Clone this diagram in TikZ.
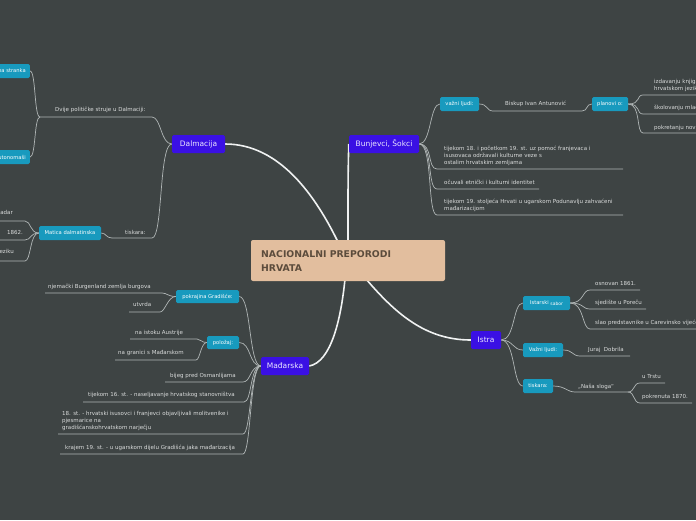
\documentclass[tikz,border=0pt]{standalone}
\usepackage{fontspec}
\setmainfont{DejaVu Sans}
\pgfdeclarelayer{back}
\pgfdeclarelayer{lines}
\pgfsetlayers{back,lines,main}
\definecolor{bgc}{RGB}{62,68,68}
\definecolor{centerc}{RGB}{226,190,158}
\definecolor{centert}{RGB}{92,76,60}
\definecolor{topicc}{RGB}{58,16,228}
\definecolor{topict}{RGB}{236,232,255}
\definecolor{subc}{RGB}{24,154,190}
\definecolor{lblc}{RGB}{218,220,220}
\definecolor{linec}{RGB}{176,182,182}
\definecolor{boughc}{RGB}{240,242,242}
\tikzset{
  rootbox/.style={fill=centerc, rounded corners=2pt, minimum width=194pt, minimum height=41pt, inner sep=0pt},
  topic/.style={fill=topicc, rounded corners=1.5pt, text=topict, font=\fontsize{7.5}{9}\selectfont, minimum height=18pt, inner sep=0pt},
  sub/.style={fill=subc, rounded corners=1.5pt, text=white, font=\fontsize{5.2}{6}\selectfont, minimum height=14pt, inner sep=0pt},
  lbl/.style={text=lblc, font=\fontsize{5.5}{6.6}\selectfont, inner sep=0pt},
  twig/.style={draw=linec, line width=0.7pt},
  bough/.style={draw=boughc, line width=1.6pt},
}
\begin{document}
\begin{tikzpicture}[x=1pt,y=-1pt]
\begin{pgfonlayer}{back}
\fill[bgc] (0,0) rectangle (696,520);
\end{pgfonlayer}
\useasboundingbox (0,0) rectangle (696,520);

% root
\node[rootbox] (root) at (348,260.5) {};
\node[text=centert, font=\fontsize{9.3}{14}\selectfont\bfseries, align=left, anchor=west, inner sep=0pt] (title) at (261,261) {NACIONALNI PREPORODI\\HRVATA};
\coordinate (cDal) at (338,242);
\coordinate (cBun) at (348,242);
\coordinate (cMad) at (345,279);
\coordinate (cIst) at (366,279);

% topics
\node[topic, minimum width=53pt] (dal) at (198.5,144) {Dalmacija};
\node[topic, minimum width=70pt] (bun) at (384,144) {Bunjevci, Šokci};
\node[topic, minimum width=48pt] (mad) at (285,366) {Mađarska};
\node[topic, minimum width=30pt] (ist) at (486,340) {Istra};

% ---------- Bunjevci, Šokci ----------
\node[sub, minimum width=39pt] (vaz1) at (459.5,104) {važni ljudi:};
\node[sub, minimum width=36pt] (pla) at (610,104) {planovi o:};
\coordinate (ba) at (493,111); \coordinate (bb) at (582,111);
\node[lbl, anchor=base west] (bt) at (505,105.5) {Biskup Ivan Antunović};
\coordinate (p1a) at (643,95);  \coordinate (p1b) at (700,95);
\node[lbl, anchor=south west, align=left] (p1t) at (654,91.5) {izdavanju knjiga na\\hrvatskom jeziku};
\coordinate (p2a) at (643,114); \coordinate (p2b) at (700,114);
\node[lbl, anchor=base west] (p2t) at (654,109.5) {školovanju mladih};
\coordinate (p3a) at (643,133); \coordinate (p3b) at (700,133);
\node[lbl, anchor=base west] (p3t) at (654,129.5) {pokretanju novina};

\coordinate (b1a) at (437,169); \coordinate (b1b) at (623,169);
\node[lbl, anchor=south west, align=left] (b1t) at (444,165.5) {tijekom 18. i početkom 19. st. uz pomoć franjevaca i\\isusovaca održavali kulturne veze s\\ostalim hrvatskim zemljama};
\coordinate (b2a) at (437,189); \coordinate (b2b) at (539,189);
\node[lbl, anchor=base west] (b2t) at (444,184.5) {očuvali etnički i kulturni identitet};
\coordinate (b3a) at (437,215); \coordinate (b3b) at (623,215);
\node[lbl, anchor=south west, align=left] (b3t) at (444,211.5) {tijekom 19. stoljeća Hrvati u ugarskom Podunavlju zahvaćeni\\mađarizacijom};

% ---------- Dalmacija ----------
\coordinate (d1a) at (40,117); \coordinate (d1b) at (152,117);
\node[lbl, anchor=base west] (d1t) at (55,111.5) {Dvije političke struje u Dalmaciji:};
\node[sub, anchor=east, inner xsep=4pt] (nar) at (30,71) {Narodna stranka};
\node[sub, anchor=east, inner xsep=4pt] (aut) at (30,157) {autonomaši};
\coordinate (d2a) at (112,238); \coordinate (d2b) at (152,238);
\node[lbl, anchor=base west] (d2t) at (125,234.5) {tiskara:};
\node[sub, minimum width=62pt] (mat) at (70,233) {Matica dalmatinska};
\coordinate (m1a) at (-5,221); \coordinate (m1b) at (25,221);
\node[lbl, anchor=base east] (m1t) at (13,214.5) {Zadar};
\coordinate (m2a) at (-5,240); \coordinate (m2b) at (25,240);
\node[lbl, anchor=base east] (m2t) at (23,234.5) {1862.};
\coordinate (m3a) at (-5,261); \coordinate (m3b) at (25,261);
\node[lbl, anchor=base east] (m3t) at (14,253.5) {jeziku};

% ---------- Mađarska ----------
\node[sub, minimum width=63pt, minimum height=13pt] (gra) at (207.5,296.5) {pokrajina Gradišće:};
\node[sub, minimum width=32pt, minimum height=13pt] (pol) at (223,342.5) {položaj:};
\coordinate (g1a) at (45,293); \coordinate (g1b) at (162,293);
\node[lbl, anchor=base west] (g1t) at (48,288.5) {njemački Burgenland zemlja burgova};
\coordinate (g2a) at (129,312); \coordinate (g2b) at (160,312);
\node[lbl, anchor=base west] (g2t) at (133,306.5) {utvrda};
\coordinate (q1a) at (130,339); \coordinate (q1b) at (197,339);
\node[lbl, anchor=base west] (q1t) at (135,334.5) {na istoku Austrije};
\coordinate (q2a) at (115,360); \coordinate (q2b) at (196,360);
\node[lbl, anchor=base west] (q2t) at (118,354.5) {na granici s Mađarskom};
\coordinate (h1a) at (165,382); \coordinate (h1b) at (243,382);
\node[lbl, anchor=base west] (h1t) at (170,377.5) {bijeg pred Osmanlijama};
\coordinate (h2a) at (83,402); \coordinate (h2b) at (244,402);
\node[lbl, anchor=base west] (h2t) at (88,396.5) {tijekom 16. st. - naseljavanje hrvatskog stanovništva};
\coordinate (h3a) at (58,434); \coordinate (h3b) at (243,434);
\node[lbl, anchor=south west, align=left] (h3t) at (62,430.5) {18. st. - hrvatski isusovci i franjevci objavljivali molitvenike i\\pjesmarice na\\gradišćanskohrvatskom narječju};
\coordinate (h4a) at (60,454); \coordinate (h4b) at (243,454);
\node[lbl, anchor=base west] (h4t) at (65,449.5) {krajem 19. st. - u ugarskom dijelu Gradišća jaka mađarizacija};

% ---------- Istra ----------
\node[sub, minimum width=47pt] (sab) at (546.5,303) {Istarski \raisebox{-0.8pt}{\fontsize{4.5}{5}\selectfont sabor}};
\node[sub, minimum width=40pt] (vaz2) at (543,350) {Važni ljudi:};
\node[sub, minimum width=30pt] (tis) at (538,386) {tiskara:};
\coordinate (s1a) at (590,290); \coordinate (s1b) at (640,290);
\node[lbl, anchor=base west] (s1t) at (595,285.5) {osnovan 1861.};
\coordinate (s2a) at (590,309); \coordinate (s2b) at (646,309);
\node[lbl, anchor=base west] (s2t) at (595,304.5) {sjedište u Poreču};
\coordinate (s3a) at (590,329); \coordinate (s3b) at (700,329);
\node[lbl, anchor=base west] (s3t) at (595,324.5) {slao predstavnike u Carevinsko vijeće};
\coordinate (j1a) at (580,356); \coordinate (j1b) at (630,356);
\node[lbl, anchor=base west] (j1t) at (588,351.5) {Juraj~ Dobrila};
\coordinate (n1a) at (575,392); \coordinate (n1b) at (628,392);
\node[lbl, anchor=base west] (n1t) at (578,388.5) {„Naša sloga“};
\coordinate (n2a) at (640,383); \coordinate (n2b) at (665,383);
\node[lbl, anchor=base west] (n2t) at (642,378.5) {u Trstu};
\coordinate (n3a) at (640,403); \coordinate (n3b) at (692,403);
\node[lbl, anchor=base west] (n3t) at (642,398.5) {pokrenuta 1870.};

\begin{pgfonlayer}{lines}
% main boughs
\draw[bough] (dal.east) .. controls +(55,0) and +(-22,-45) .. (cDal);
\draw[bough] (bun.west) .. controls +(-1,30) and +(0,-30) .. (cBun);
\draw[bough] (mad.east) .. controls +(22,-4) and +(-4,40) .. (cMad);
\draw[bough] (ist.west) .. controls +(-45,0) and +(30,35) .. (cIst);

% Bunjevci
\draw[twig] (bun.east) .. controls +(12,0) and +(-10,0) .. (vaz1.west);
\draw[twig] (bun.east) .. controls +(14,0) and +(-10,0) .. (b1a) -- (b1b);
\draw[twig] (bun.east) .. controls +(14,0) and +(-10,0) .. (b2a) -- (b2b);
\draw[twig] (bun.east) .. controls +(14,0) and +(-10,0) .. (b3a) -- (b3b);
\draw[twig] (vaz1.east) .. controls +(9,0) and +(-7,0) .. (ba) -- (bb) .. controls +(6,0) and +(-6,0) .. (pla.west);
\draw[twig] (pla.east) .. controls +(13,0) and +(-7,0) .. (p1a) -- (p1b);
\draw[twig] (pla.east) .. controls +(13,0) and +(-7,0) .. (p2a) -- (p2b);
\draw[twig] (pla.east) .. controls +(13,0) and +(-7,0) .. (p3a) -- (p3b);

% Dalmacija
\draw[twig] (dal.west) .. controls +(-11,0) and +(9,0) .. (d1b) -- (d1a);
\draw[twig] (d1a) .. controls +(-6,0) and +(6,0) .. (nar.east);
\draw[twig] (d1a) .. controls +(-6,0) and +(6,0) .. (aut.east);
\draw[twig] (dal.west) .. controls +(-13,0) and +(11,0) .. (d2b) -- (d2a);
\draw[twig] (d2a) .. controls +(-6,0) and +(5,0) .. (mat.east);
\draw[twig] (mat.west) .. controls +(-9,0) and +(6,0) .. (m1b) -- (m1a);
\draw[twig] (mat.west) .. controls +(-9,0) and +(6,0) .. (m2b) -- (m2a);
\draw[twig] (mat.west) .. controls +(-9,0) and +(6,0) .. (m3b) -- (m3a);

% Mađarska
\draw[twig] (mad.west) .. controls +(-12,0) and +(12,0) .. (gra.east);
\draw[twig] (mad.west) .. controls +(-12,0) and +(12,0) .. (pol.east);
\draw[twig] (mad.west) .. controls +(-11,0) and +(8,0) .. (h1b) -- (h1a);
\draw[twig] (mad.west) .. controls +(-11,0) and +(8,0) .. (h2b) -- (h2a);
\draw[twig] (mad.west) .. controls +(-11,0) and +(8,0) .. (h3b) -- (h3a);
\draw[twig] (mad.west) .. controls +(-11,0) and +(8,0) .. (h4b) -- (h4a);
\draw[twig] (gra.west) .. controls +(-8,0) and +(5,0) .. (g1b) -- (g1a);
\draw[twig] (gra.west) .. controls +(-8,0) and +(5,0) .. (g2b) -- (g2a);
\draw[twig] (pol.west) .. controls +(-6,0) and +(4,0) .. (q1b) -- (q1a);
\draw[twig] (pol.west) .. controls +(-6,0) and +(4,0) .. (q2b) -- (q2a);

% Istra
\draw[twig] (ist.east) .. controls +(14,0) and +(-10,0) .. (sab.west);
\draw[twig] (ist.east) .. controls +(12,0) and +(-10,0) .. (vaz2.west);
\draw[twig] (ist.east) .. controls +(14,0) and +(-10,0) .. (tis.west);
\draw[twig] (sab.east) .. controls +(14,0) and +(-8,0) .. (s1a) -- (s1b);
\draw[twig] (sab.east) .. controls +(14,0) and +(-8,0) .. (s2a) -- (s2b);
\draw[twig] (sab.east) .. controls +(14,0) and +(-8,0) .. (s3a) -- (s3b);
\draw[twig] (vaz2.east) .. controls +(10,0) and +(-8,0) .. (j1a) -- (j1b);
\draw[twig] (tis.east) .. controls +(12,0) and +(-8,0) .. (n1a) -- (n1b);
\draw[twig] (n1b) .. controls +(7,0) and +(-7,0) .. (n2a) -- (n2b);
\draw[twig] (n1b) .. controls +(7,0) and +(-7,0) .. (n3a) -- (n3b);
\end{pgfonlayer}
\end{tikzpicture}
\end{document}
